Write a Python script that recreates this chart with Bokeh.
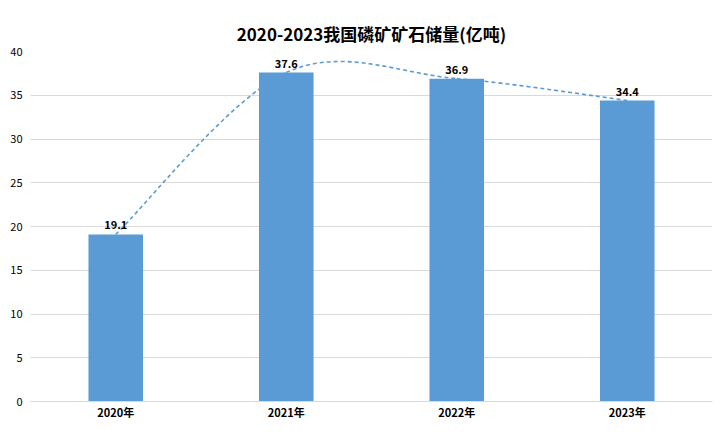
from bokeh.plotting import figure
from bokeh.models import ColumnDataSource, FixedTicker, Range1d, LabelSet
from bokeh.core.properties import value
from bokeh.embed import file_html
from bokeh.resources import INLINE

title_text = "2020-2023我国磷矿矿石储量(亿吨)"
categories = ["2020年", "2021年", "2022年", "2023年"]
values = [19.1, 37.6, 36.9, 34.4]
y_ticks = [0, 5, 10, 15, 20, 25, 30, 35, 40]

xs = list(range(len(categories)))
bar_color = "#5B9BD5"
cjk = "Noto Sans CJK SC"

p = figure(frame_width=682, frame_height=350, output_backend="svg", toolbar_location=None,
           x_range=Range1d(-0.5, len(categories) - 0.5), y_range=Range1d(0, 40),
           min_border_left=30, min_border_right=15, min_border_top=51, min_border_bottom=32)

p.title.text = title_text
p.title.align = "center"
p.title.vertical_align = "middle"
p.title.text_font = cjk
p.title.text_font_size = "17px"
p.title.text_font_style = "bold"
p.title.text_color = "#000000"
p.title.standoff = 10

src = ColumnDataSource(dict(x=xs, top=values, label=[f"{v:.1f}" for v in values]))
p.vbar(x="x", top="top", width=0.32, source=src, color=bar_color, line_color=None)

# Smoothed trend curve (Excel-style Catmull-Rom -> cubic Bezier) through bar tops
n = len(values)
x0, y0, x1, y1, cx0, cy0, cx1, cy1 = [], [], [], [], [], [], [], []
for i in range(n - 1):
    pm = (xs[max(i - 1, 0)], values[max(i - 1, 0)])
    pa = (xs[i], values[i])
    pb = (xs[i + 1], values[i + 1])
    pn = (xs[min(i + 2, n - 1)], values[min(i + 2, n - 1)])
    x0.append(pa[0]); y0.append(pa[1]); x1.append(pb[0]); y1.append(pb[1])
    cx0.append(pa[0] + (pb[0] - pm[0]) / 6); cy0.append(pa[1] + (pb[1] - pm[1]) / 6)
    cx1.append(pb[0] - (pn[0] - pa[0]) / 6); cy1.append(pb[1] - (pn[1] - pa[1]) / 6)
p.bezier(x0=x0, y0=y0, x1=x1, y1=y1, cx0=cx0, cy0=cy0, cx1=cx1, cy1=cy1,
         line_color="#5B9BD5", line_width=1.6, line_dash="4 3")

labels = LabelSet(x="x", y="top", text="label", source=src, text_align="center",
                  text_baseline="bottom", y_offset=5, text_font=value(cjk),
                  text_font_size=value("11px"), text_font_style="bold", text_color="#000000")
p.add_layout(labels)

p.xaxis.ticker = FixedTicker(ticks=xs)
p.xaxis.major_label_overrides = {i: c for i, c in zip(xs, categories)}
p.xaxis.major_label_text_font = cjk
p.xaxis.major_label_text_font_size = "11px"
p.xaxis.major_label_text_font_style = "bold"
p.xaxis.major_label_text_color = "#000000"
p.xaxis.axis_line_color = "#D9D9D9"
p.xaxis.major_tick_line_color = None
p.xaxis.minor_tick_line_color = None
p.xaxis.major_tick_out = 0
p.xaxis.major_label_standoff = 2

p.yaxis.ticker = FixedTicker(ticks=y_ticks)
p.yaxis.major_label_text_font = cjk
p.yaxis.major_label_text_font_size = "11px"
p.yaxis.major_label_text_color = "#000000"
p.yaxis.axis_line_color = None
p.yaxis.major_tick_line_color = None
p.yaxis.minor_tick_line_color = None
p.yaxis.major_tick_out = 0
p.yaxis.major_label_standoff = 8

p.xgrid.grid_line_color = None
p.ygrid.grid_line_color = "#D9D9D9"
p.outline_line_color = None

open("out.html", "w").write(file_html(p, INLINE))
